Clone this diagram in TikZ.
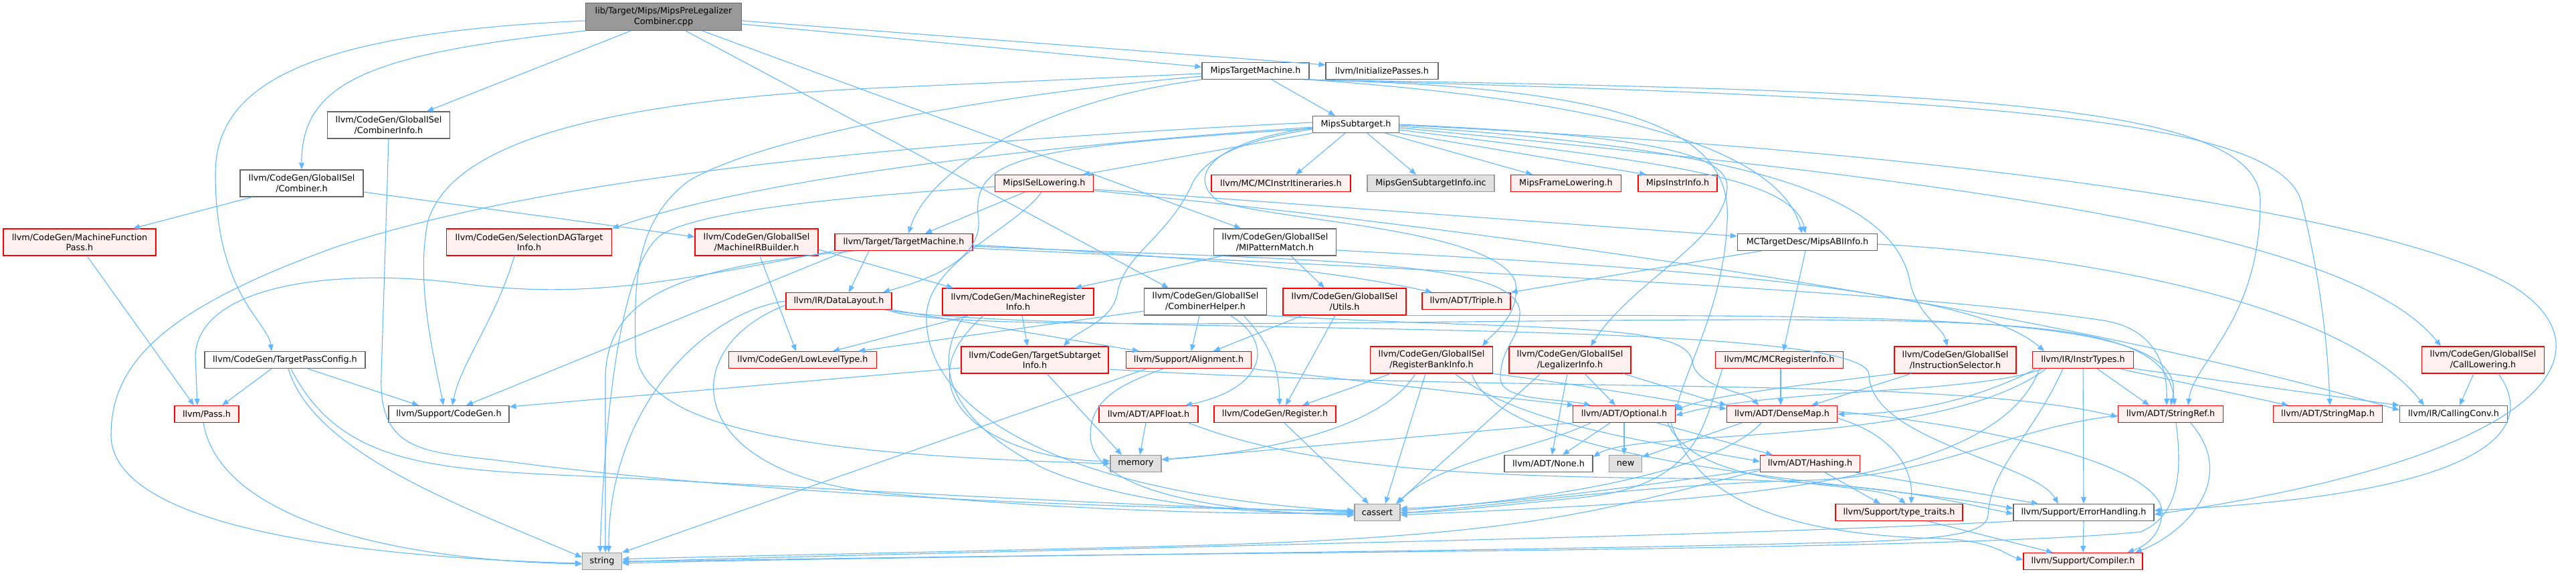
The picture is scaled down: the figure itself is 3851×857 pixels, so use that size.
\documentclass[tikz,border=0pt]{standalone}
\usepackage{fontspec}
\setmainfont{DejaVu Sans}
\usepackage{xcolor}
\usetikzlibrary{arrows.meta, positioning}

\definecolor{edgeblue}{HTML}{63B8FF}
\definecolor{truncfill}{HTML}{FFF0F0}
\definecolor{sysfill}{HTML}{E0E0E0}

\begin{document}
\begin{tikzpicture}[
  x = 1pt, y = -1pt,
  every node/.style = {font=\fontsize{12.8}{15.5}\selectfont, inner sep=0pt,
                       align=center, line width=1.2pt},
  source/.style    = {rectangle, draw=black!60, fill=black!40,
                      minimum height=41pt},
  header/.style    = {rectangle, draw=black!60, fill=white, minimum height=25pt},
  truncated/.style = {rectangle, draw=red, fill=truncfill, minimum height=25pt},
  external/.style  = {rectangle, draw=black!40, fill=sysfill, minimum height=25pt},
  tall/.style      = {minimum height=40pt},
  arrow/.style     = {draw=edgeblue, line width=1.1pt,
                      -{Triangle[length=10pt, width=8pt]}}
]
\fill[white] (0,0) rectangle (3851,857);
\useasboundingbox (0,0) rectangle (3851,857);

% --- rank 0 / 1 ---
\node[source, minimum width=233pt] (src) at (992,25)
  {lib/Target/Mips/MipsPreLegalizer\\Combiner.cpp};
\node[header, minimum width=160pt] (mipstm) at (1877,106) {MipsTargetMachine.h};
\node[header, minimum width=168pt] (initp)  at (2066,106) {llvm/InitializePasses.h};

% --- rank 2 / 3 ---
\node[header, tall, minimum width=183pt] (cinfo)  at (581,187) {llvm/CodeGen/GlobalISel\\/CombinerInfo.h};
\node[header, minimum width=129pt]       (subtgt) at (2027,186) {MipsSubtarget.h};
\node[header, tall, minimum width=184pt] (combnr) at (451,274) {llvm/CodeGen/GlobalISel\\/Combiner.h};
\node[truncated, minimum width=147pt] (isel)   at (1561,274) {MipsISelLowering.h};
\node[truncated, minimum width=208pt] (itin)   at (1915,274) {llvm/MC/MCInstrItineraries.h};
\node[external,  minimum width=190pt] (gensub) at (2139,274) {MipsGenSubtargetInfo.inc};
\node[truncated, minimum width=165pt] (frame)  at (2341,274) {MipsFrameLowering.h};
\node[truncated, minimum width=118pt] (instr)  at (2508,274) {MipsInstrInfo.h};

% --- rank 4 ---
\node[truncated, tall, minimum width=228pt] (mfpass) at (119,362) {llvm/CodeGen/MachineFunction\\Pass.h};
\node[truncated, tall, minimum width=247pt] (sdag)   at (791,362) {llvm/CodeGen/SelectionDAGTarget\\Info.h};
\node[truncated, tall, minimum width=184pt] (mirb)   at (1131,362) {llvm/CodeGen/GlobalISel\\/MachineIRBuilder.h};
\node[truncated, minimum width=206pt]       (tm)     at (1351,362) {llvm/Target/TargetMachine.h};
\node[header, tall, minimum width=183pt]    (mipm)   at (1906,362) {llvm/CodeGen/GlobalISel\\/MIPatternMatch.h};
\node[header, minimum width=209pt]          (abi)    at (2702,362) {MCTargetDesc/MipsABIInfo.h};

% --- rank 5 ---
\node[truncated, minimum width=158pt]       (dl)     at (1254,450) {llvm/IR/DataLayout.h};
\node[truncated, tall, minimum width=226pt] (mri)    at (1522,451) {llvm/CodeGen/MachineRegister\\Info.h};
\node[header, tall, minimum width=183pt]    (chelp)  at (1802,451) {llvm/CodeGen/GlobalISel\\/CombinerHelper.h};
\node[truncated, tall, minimum width=184pt] (utils)  at (2010,451) {llvm/CodeGen/GlobalISel\\/Utils.h};
\node[truncated, minimum width=132pt]       (triple) at (2192,450) {llvm/ADT/Triple.h};

% --- rank 6 ---
\node[header, minimum width=240pt]          (tpc)     at (426,538)  {llvm/CodeGen/TargetPassConfig.h};
\node[truncated, minimum width=221pt]       (llt)     at (1200,538) {llvm/CodeGen/LowLevelType.h};
\node[truncated, tall, minimum width=220pt] (tsi)     at (1547,538) {llvm/CodeGen/TargetSubtarget\\Info.h};
\node[truncated, minimum width=187pt]       (alignh)  at (1777,538) {llvm/Support/Alignment.h};
\node[truncated, tall, minimum width=183pt] (rbi)     at (2140,538) {llvm/CodeGen/GlobalISel\\/RegisterBankInfo.h};
\node[truncated, tall, minimum width=182pt] (legal)   at (2347,538) {llvm/CodeGen/GlobalISel\\/LegalizerInfo.h};
\node[truncated, minimum width=191pt]       (mcreg)   at (2660,538) {llvm/MC/MCRegisterInfo.h};
\node[truncated, tall, minimum width=182pt] (instsel) at (2923,538) {llvm/CodeGen/GlobalISel\\/InstructionSelector.h};
\node[truncated, minimum width=151pt]       (itypes)  at (3114,538) {llvm/IR/InstrTypes.h};
\node[truncated, tall, minimum width=183pt] (calllow) at (3712,538) {llvm/CodeGen/GlobalISel\\/CallLowering.h};

% --- rank 7 ---
\node[truncated, minimum width=96pt]  (pass)  at (309,619)  {llvm/Pass.h};
\node[header,    minimum width=180pt] (cgen)  at (671,619)  {llvm/Support/CodeGen.h};
\node[truncated, minimum width=148pt] (apf)   at (1717,619) {llvm/ADT/APFloat.h};
\node[truncated, minimum width=182pt] (reg)   at (1906,619) {llvm/CodeGen/Register.h};
\node[truncated, minimum width=153pt] (opt)   at (2428,619) {llvm/ADT/Optional.h};
\node[truncated, minimum width=165pt] (dmap)  at (2664,619) {llvm/ADT/DenseMap.h};
\node[truncated, minimum width=157pt] (sref)  at (3245,619) {llvm/ADT/StringRef.h};
\node[truncated, minimum width=163pt] (smap)  at (3480,619) {llvm/ADT/StringMap.h};
\node[header,    minimum width=161pt] (cconv) at (3668,619) {llvm/IR/CallingConv.h};

% --- rank 8 / 9 / 10 ---
\node[external,  minimum width=76pt]  (memory)   at (1698,693) {memory};
\node[header,    minimum width=132pt] (none)     at (2315,693) {llvm/ADT/None.h};
\node[external,  minimum width=49pt]  (newh)     at (2430,693) {new};
\node[truncated, minimum width=149pt] (hashing)  at (2706,693) {llvm/ADT/Hashing.h};
\node[external,  minimum width=68pt]  (cassert)  at (2059,766) {cassert};
\node[truncated, minimum width=190pt] (ttraits)  at (2839,766) {llvm/Support/type\_traits.h};
\node[header,    minimum width=210pt] (errh)     at (3115,766) {llvm/Support/ErrorHandling.h};
\node[external,  minimum width=59pt]  (string)   at (900,839)  {string};
\node[truncated, minimum width=178pt] (compiler) at (3114,839) {llvm/Support/Compiler.h};

% --- the source file ---
\draw[arrow] ([yshift=-11pt]src.east) -- ([yshift=6pt]mipstm.west);
\draw[arrow] ([yshift=-6pt]src.east) -- ([yshift=9pt]initp.west);
\draw[arrow] ([xshift=-49pt]src.south) -- ([xshift=57pt]cinfo.north);
\draw[arrow] (src.south west) .. controls (560,80) and (450,120) .. (combnr.north);
\draw[arrow] ([yshift=-6pt]src.west) .. controls (450,50) and (322,130) .. (322,260)
  .. controls (322,440) and (400,480) .. ([xshift=-20pt]tpc.north);
\draw[arrow] ([xshift=33pt]src.south) -- ([xshift=-55pt]chelp.north);
\draw[arrow] ([xshift=58pt]src.south) -- ([xshift=-51pt]mipm.north);

% --- MipsTargetMachine.h ---
\draw[arrow] ([xshift=24pt]mipstm.south) -- ([xshift=-31pt]subtgt.north);
\draw[arrow] ([yshift=-4pt]mipstm.west) -- (1300,132) .. controls (950,150) and (680,200) .. (640,330)
  .. controls (620,420) and (650,540) .. ([xshift=-8pt]cgen.north);
\draw[arrow] ([yshift=-8pt]mipstm.west) .. controls (1500,140) and (1150,200) .. (1030,270)
  .. controls (950,330) and (948,420) .. (950,520)
  .. controls (952,640) and (1200,680) .. (memory.west);
\draw[arrow] (mipstm.south west) .. controls (1560,150) and (1390,250) .. ([xshift=7pt]tm.north);
\draw[arrow] (mipstm.south east) .. controls (2400,150) and (2660,220) .. ([xshift=-8pt]abi.north);
\draw[arrow] ([xshift=-2pt]mipstm.south east) .. controls (2900,135) and (3379,150) .. (3379,300)
  .. controls (3379,480) and (3280,540) .. ([xshift=26pt]sref.north);
\draw[arrow] ([xshift=-6pt]mipstm.south east) .. controls (2900,145) and (3400,170) .. (3440,300)
  .. controls (3470,420) and (3480,520) .. ([xshift=3pt]smap.north);
\draw[arrow] ([xshift=-10pt]mipstm.south east) .. controls (2450,130) and (2590,200) .. (2582,330)
  .. controls (2578,450) and (2525,540) .. ([yshift=5pt]opt.east);

% --- MipsSubtarget.h ---
\draw[arrow] ([xshift=-16pt]subtgt.south) -- ([xshift=22pt]itin.north);
\draw[arrow] ([xshift=17pt]subtgt.south) -- ([xshift=-22pt]gensub.north);
\draw[arrow] ([xshift=44pt]subtgt.south) -- ([xshift=-50pt]frame.north);
\draw[arrow] (subtgt.south east) -- ([xshift=-47pt]instr.north);
\draw[arrow] (subtgt.south west) -- ([xshift=58pt]isel.north);
\draw[arrow] ([yshift=-4pt]subtgt.west) .. controls (1600,215) and (1150,260) .. (sdag.north east);
\draw[arrow] ([yshift=3pt]subtgt.west) .. controls (1300,215) and (800,270) .. (500,370)
  .. controls (250,460) and (166,540) .. (166,650)
  .. controls (166,800) and (600,835) .. ([yshift=-3pt]string.west);
\draw[arrow] ([yshift=-6pt]subtgt.west) .. controls (1550,220) and (1455,230) .. (1462,320)
  .. controls (1475,390) and (1380,420) .. ([xshift=66pt]dl.north);
\draw[arrow] ([yshift=-7pt]subtgt.west) .. controls (1850,210) and (1795,240) .. (1780,280)
  .. controls (1740,360) and (1680,380) .. (1670,440)
  .. controls (1662,480) and (1610,495) .. ([xshift=43pt]tsi.north);
\draw[arrow] ([yshift=-5pt]subtgt.west) .. controls (1820,210) and (1770,260) .. (1820,300)
  .. controls (1900,330) and (2230,340) .. (2265,420)
  .. controls (2275,470) and (2230,500) .. ([xshift=76pt]rbi.north);
\draw[arrow] (subtgt.east) .. controls (2400,200) and (2585,220) .. (2582,280)
  .. controls (2578,360) and (2440,420) .. ([xshift=31pt]legal.north);
\draw[arrow] ([yshift=-3pt]subtgt.east) .. controls (2600,220) and (2830,290) .. (2855,420)
  .. controls (2865,470) and (2905,490) .. ([xshift=-12pt]instsel.north);
\draw[arrow] ([yshift=-8pt]subtgt.east) .. controls (2450,240) and (2680,260) .. ([xshift=-3pt]abi.north);
\draw[arrow] ([yshift=-5pt]subtgt.east) .. controls (2800,260) and (3500,330) .. ([xshift=-63pt]calllow.north);
\draw[arrow] ([yshift=-1pt]subtgt.east) .. controls (3000,230) and (3600,330) .. (3760,430)
  .. controls (3900,520) and (3830,680) .. ([yshift=-3pt]errh.east);

% --- MipsISelLowering.h ---
\draw[arrow] ([xshift=-29pt]isel.south) -- ([xshift=32pt]tm.north);
\draw[arrow] ([yshift=-9pt]isel.east) -- ([yshift=9pt]abi.west);
\draw[arrow] ([yshift=-11pt]isel.east) .. controls (2300,350) and (3100,470) .. ([yshift=6pt]cconv.west);
\draw[arrow] ([xshift=-4pt]isel.south) .. controls (1520,340) and (1390,390) .. (1385,470)
  .. controls (1380,620) and (1600,740) .. ([yshift=2pt]cassert.west);
\draw[arrow] ([yshift=-5pt]isel.west) .. controls (1250,295) and (1050,315) .. (990,350)
  .. controls (930,390) and (905,600) .. ([xshift=-3pt]string.north);

% --- TargetMachine.h ---
\draw[arrow] ([xshift=-52pt]tm.south) -- ([xshift=15pt]dl.north);
\draw[arrow] (tm.south west) .. controls (1050,410) and (900,450) .. (700,425)
  .. controls (520,400) and (300,420) .. (292,530) -- ([xshift=-14pt]pass.north);
\draw[arrow] ([xshift=-86pt]tm.south) -- ([xshift=26pt]cgen.north);
\draw[arrow] ([xshift=-74pt]tm.south) .. controls (1000,400) and (910,450) .. (905,560)
  -- ([xshift=5pt]string.north);
\draw[arrow] ([yshift=-4pt]tm.east) .. controls (1700,380) and (1950,395) .. ([xshift=-51pt]triple.north);
\draw[arrow] ([yshift=-6pt]tm.east) .. controls (1950,390) and (2278,385) .. (2272,470)
  .. controls (2270,510) and (2243,520) .. (2243,565)
  .. controls (2243,600) and (2330,595) .. ([xshift=-50pt]opt.north);
\draw[arrow] ([yshift=-9pt]tm.east) .. controls (2300,410) and (2900,440) .. (3150,480)
  .. controls (3230,495) and (3240,560) .. ([xshift=-6pt]sref.north);

% --- DataLayout.h ---
\draw[arrow] (dl.south east) -- ([xshift=-74pt]alignh.north);
\draw[arrow] (dl.west) .. controls (1060,465) and (910,600) .. ([xshift=10pt]string.north);
\draw[arrow] ([yshift=-6pt]dl.west) .. controls (1010,520) and (1020,700) .. (1300,735)
  .. controls (1600,765) and (1900,770) .. (cassert.west);
\draw[arrow] ([xshift=-6pt]dl.south east) .. controls (1400,500) and (2200,476) .. (2700,478)
  .. controls (3100,480) and (3240,500) .. ([xshift=6pt]sref.north);
\draw[arrow] ([xshift=-12pt]dl.south east) .. controls (1600,505) and (2790,470) .. (2794,560)
  .. controls (2797,660) and (3040,690) .. ([xshift=-38pt]errh.north);

% --- MachineRegisterInfo.h, CombinerHelper.h, Utils.h ---
\draw[arrow] ([xshift=-73pt]mri.south) -- ([xshift=45pt]llt.north);
\draw[arrow] ([xshift=6pt]mri.south) -- ([xshift=-11pt]tsi.north);
\draw[arrow] ([xshift=-52pt]mri.south) .. controls (1440,500) and (1415,530) .. (1420,570)
  .. controls (1430,650) and (1560,690) .. ([yshift=4pt]memory.west);
\draw[arrow] ([xshift=-80pt]mri.south) .. controls (1400,530) and (1400,620) .. (1560,700)
  .. controls (1700,760) and (1900,768) .. ([yshift=-2pt]cassert.west);
\draw[arrow] ([yshift=-14pt]chelp.west) -- ([xshift=83pt]llt.north);
\draw[arrow] ([xshift=-9pt]chelp.south) -- ([xshift=4pt]alignh.north);
\draw[arrow] ([xshift=37pt]chelp.south) .. controls (1905,510) and (1895,580) .. ([xshift=55pt]apf.north);
\draw[arrow] ([xshift=57pt]chelp.south) .. controls (1905,520) and (1912,560) .. ([xshift=7pt]reg.north);
\draw[arrow] (chelp.south east) .. controls (2300,495) and (2520,480) .. (2530,540)
  .. controls (2535,580) and (2610,585) .. ([xshift=-35pt]dmap.north);
\draw[arrow] ([xshift=-63pt]utils.south) -- ([xshift=37pt]alignh.north);
\draw[arrow] ([xshift=-14pt]utils.south) -- ([xshift=16pt]reg.north);
\draw[arrow] (utils.south east) .. controls (2900,470) and (3280,470) .. (sref.north);

% --- rank 6 headers ---
\draw[arrow] ([yshift=-12pt]tsi.west) -- ([yshift=11pt]cgen.east);
\draw[arrow] ([xshift=18pt]tsi.south) -- ([xshift=-21pt]memory.north);
\draw[arrow] ([yshift=-14pt]tsi.east) .. controls (2300,590) and (2900,560) .. ([yshift=-4pt]sref.west);
\draw[arrow] (alignh.south east) -- ([xshift=-75pt]opt.north);
\draw[arrow] ([xshift=-38pt]alignh.south) .. controls (1690,570) and (1630,590) .. (1630,650)
  .. controls (1630,730) and (1800,765) .. ([yshift=-4pt]cassert.west);
\draw[arrow] ([xshift=-63pt]alignh.south) -- (string.north east);
\draw[arrow] ([xshift=-61pt]rbi.south) -- ([xshift=41pt]reg.north);
\draw[arrow] ([xshift=-9pt]rbi.south) -- ([xshift=12pt]cassert.north);
\draw[arrow] ([xshift=-24pt]rbi.south) .. controls (2060,650) and (1850,680) .. ([yshift=6pt]memory.east);
\draw[arrow] ([xshift=35pt]rbi.south) .. controls (2280,640) and (2500,665) .. ([yshift=3pt]hashing.west);
\draw[arrow] (rbi.south east) .. controls (2400,580) and (2500,600) .. ([yshift=8pt]dmap.west);
\draw[arrow] ([xshift=60pt]rbi.south) .. controls (2250,700) and (2800,720) .. ([yshift=6pt]errh.west);
\draw[arrow] ([xshift=22pt]legal.south) -- ([xshift=-13pt]opt.north);
\draw[arrow] ([xshift=-4pt]legal.south) -- ([xshift=5pt]none.north);
\draw[arrow] ([xshift=-44pt]legal.south) -- ([xshift=28pt]cassert.north);
\draw[arrow] ([xshift=80pt]legal.south) -- (dmap.north west);
\draw[arrow] ([xshift=2pt]mcreg.south) -- ([xshift=-2pt]dmap.north);
\draw[arrow] ([xshift=-85pt]mcreg.south) .. controls (2545,640) and (2540,730) .. (2350,745)
  .. controls (2200,760) and (2150,766) .. (cassert.east);
\draw[arrow] ([xshift=-66pt]instsel.south) -- ([xshift=44pt]dmap.north);
\draw[arrow] (instsel.south west) .. controls (2700,575) and (2560,590) .. ([yshift=6pt]opt.east);

% --- InstrTypes.h ---
\draw[arrow] ([xshift=21pt]itypes.south) -- ([xshift=-32pt]sref.north);
\draw[arrow] ([xshift=54pt]itypes.south) -- ([xshift=-59pt]smap.north);
\draw[arrow] (itypes.south east) -- (cconv.north west);
\draw[arrow] (itypes.south) -- (errh.north);
\draw[arrow] ([xshift=-70pt]itypes.south) .. controls (2950,600) and (2850,619) .. (dmap.east);
\draw[arrow] ([xshift=-60pt]itypes.south) .. controls (2950,590) and (2650,580) .. ([yshift=-2pt]opt.east);
\draw[arrow] ([xshift=-55pt]itypes.south) .. controls (2900,670) and (2450,640) .. ([yshift=10pt]none.east);
\draw[arrow] ([xshift=-65pt]itypes.south) .. controls (2980,740) and (2500,750) .. ([yshift=-4pt]cassert.east);
\draw[arrow] ([xshift=-30pt]itypes.south) .. controls (3040,650) and (2975,700) .. (2972,770)
  .. controls (2970,800) and (2900,808) .. (2700,812)
  .. controls (2200,825) and (1300,832) .. ([yshift=-3pt]string.east);

% --- CallLowering.h ---
\draw[arrow] ([xshift=-14pt]calllow.south) -- ([xshift=9pt]cconv.north);
\draw[arrow] ([xshift=23pt]calllow.south) .. controls (3800,650) and (3700,740) .. ([yshift=3pt]errh.east);

% --- rank 7 headers ---
\draw[arrow] ([xshift=-4pt]apf.south) -- ([xshift=6pt]memory.north);
\draw[arrow] ([xshift=60pt]apf.south) .. controls (1950,700) and (2200,712) .. (2500,715)
  .. controls (2800,718) and (2900,745) .. ([yshift=-2pt]errh.west);
\draw[arrow] ([xshift=14pt]reg.south) -- ([xshift=-13pt]cassert.north);
\draw[arrow] (opt.south west) -- ([yshift=6pt]memory.east);
\draw[arrow] ([xshift=-21pt]opt.south) -- ([xshift=21pt]none.north);
\draw[arrow] (opt.south) -- ([xshift=-2pt]newh.north);
\draw[arrow] ([xshift=-50pt]opt.south) .. controls (2300,670) and (2150,690) .. ([xshift=30pt]cassert.north);
\draw[arrow] ([xshift=49pt]opt.south) -- ([xshift=-56pt]hashing.north);
\draw[arrow] ([xshift=65pt]opt.south) .. controls (2540,740) and (2800,715) .. ([xshift=10pt]ttraits.north);
\draw[arrow] ([xshift=70pt]opt.south) .. controls (2540,760) and (2700,800) .. (2900,805)
  .. controls (2980,808) and (3000,830) .. ([yshift=2pt]compiler.west);
\draw[arrow] ([yshift=-6pt]dmap.east) .. controls (2830,650) and (2860,700) .. ([xshift=18pt]ttraits.north);
\draw[arrow] ([yshift=4pt]dmap.east) .. controls (3000,640) and (3240,700) .. (3232,770)
  .. controls (3228,800) and (3210,815) .. ([xshift=66pt]compiler.north);
\draw[arrow] ([xshift=-60pt]dmap.south) -- ([yshift=10pt]newh.east);
\draw[arrow] ([xshift=-31pt]dmap.south) .. controls (2580,690) and (2400,740) .. ([yshift=3pt]cassert.east);
\draw[arrow] ([xshift=30pt]sref.south) .. controls (3350,720) and (3260,800) .. ([xshift=78pt]compiler.north);
\draw[arrow] ([xshift=8pt]sref.south) .. controls (3262,700) and (3260,770) .. (3200,795)
  .. controls (3000,815) and (2400,822) .. (1800,828)
  .. controls (1300,833) and (1000,839) .. (string.east);
\draw[arrow] ([yshift=-2pt]sref.west) .. controls (3000,640) and (2900,712) .. (2700,718)
  .. controls (2450,725) and (2250,755) .. ([yshift=-1pt]cassert.east);

% --- lower ranks ---
\draw[arrow] ([xshift=22pt]hashing.south) -- ([xshift=-28pt]ttraits.north);
\draw[arrow] ([xshift=68pt]hashing.south) -- ([xshift=-68pt]errh.north);
\draw[arrow] ([yshift=-8pt]hashing.west) .. controls (2500,720) and (2250,755) .. ([yshift=6pt]cassert.east);
\draw[arrow] ([yshift=-10pt]hashing.west) .. controls (2400,760) and (2300,800) .. (1800,815)
  .. controls (1300,828) and (1000,833) .. ([yshift=3pt]string.east);
\draw[arrow] ([xshift=43pt]ttraits.south) -- ([xshift=-45pt]compiler.north);
\draw[arrow] (errh.south) -- (compiler.north);
\draw[arrow] (errh.south west) .. controls (2800,790) and (2500,800) .. (2000,812)
  .. controls (1500,825) and (1100,834) .. ([yshift=-1pt]string.east);

% --- left part ---
\draw[arrow] ([xshift=-5pt]pass.south) .. controls (330,780) and (600,838) .. ([yshift=-4pt]string.west);
\draw[arrow] ([xshift=-20pt]tpc.south) -- ([xshift=23pt]pass.north);
\draw[arrow] ([xshift=34pt]tpc.south) -- ([xshift=-45pt]cgen.north);
\draw[arrow] ([xshift=5pt]tpc.south) .. controls (470,680) and (700,760) .. ([yshift=6pt]string.west);
\draw[arrow] ([xshift=9pt]tpc.south) .. controls (520,720) and (700,700) .. (1000,718)
  .. controls (1500,745) and (1800,760) .. ([yshift=1pt]cassert.west);
\draw[arrow] (cinfo.south) -- (570,560) .. controls (565,680) and (640,675) .. (760,690)
  .. controls (1100,735) and (1600,760) .. ([yshift=3pt]cassert.west);
\draw[arrow] ([xshift=-74pt]combnr.south) -- ([xshift=80pt]mfpass.north);
\draw[arrow] ([yshift=-13pt]combnr.east) -- ([yshift=8pt]mirb.west);
\draw[arrow] ([xshift=11pt]mfpass.south) -- ([xshift=-19pt]pass.north);
\draw[arrow] ([xshift=-22pt]sdag.south) .. controls (740,480) and (690,540) .. ([xshift=5pt]cgen.north);
\draw[arrow] ([xshift=5pt]mirb.south) -- ([xshift=-10pt]llt.north);
\draw[arrow] ([yshift=-11pt]mirb.east) -- ([xshift=-97pt]mri.north);
\draw[arrow] ([xshift=-79pt]mipm.south) -- ([xshift=85pt]mri.north);
\draw[arrow] ([xshift=24pt]mipm.south) -- ([xshift=-30pt]utils.north);
\draw[arrow] ([yshift=-12pt]mipm.east) .. controls (2500,400) and (2950,430) .. ([xshift=-58pt]itypes.north);
\draw[arrow] ([xshift=-69pt]abi.south) -- (triple.north east);
\draw[arrow] ([xshift=-3pt]abi.south) -- ([xshift=6pt]mcreg.north);
\draw[arrow] ([yshift=-3pt]abi.east) .. controls (3100,380) and (3500,450) .. ([xshift=-44pt]cconv.north);

\end{tikzpicture}
\end{document}
